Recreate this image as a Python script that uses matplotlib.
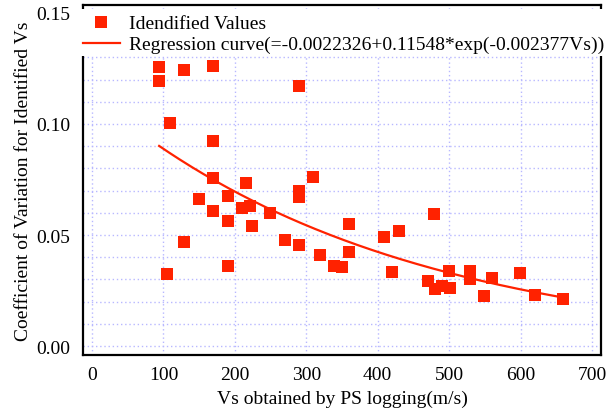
import numpy as np
import matplotlib
matplotlib.use("Agg")
import matplotlib.pyplot as plt
from matplotlib.patches import Rectangle
from matplotlib.ticker import MultipleLocator

plt.rcParams['font.family'] = ['Liberation Serif', 'DejaVu Serif']

# Identified values (Vs from PS logging, coefficient of variation)
vs = [94, 94, 129, 169, 290, 109, 169, 169, 216, 309, 150, 190, 169, 190,
      210, 221, 224, 249, 290, 290, 129, 270, 290, 190, 105, 319, 339, 350,
      360, 360, 409, 430, 479, 420, 470, 480, 490, 501, 500, 529, 529, 560,
      549, 599, 620, 659]
cv = [0.1257, 0.1194, 0.1243, 0.1261, 0.1171, 0.1005, 0.0923, 0.0757, 0.0734,
      0.0761, 0.0662, 0.0676, 0.0608, 0.0563, 0.0622, 0.0631, 0.0541, 0.0599,
      0.0700, 0.0670, 0.0468, 0.0477, 0.0455, 0.0360, 0.0324, 0.0410, 0.0360,
      0.0356, 0.0550, 0.0423, 0.0491, 0.0518, 0.0595, 0.0333, 0.0293, 0.0257,
      0.0270, 0.0261, 0.0338, 0.0338, 0.0302, 0.0306, 0.0225, 0.0329, 0.0230,
      0.0212]

# Regression parameters (from legend)
a0, a1, k = -0.0022326, 0.11548, -0.002377

xticks = [0, 100, 200, 300, 400, 500, 600, 700]
yticks = [0.00, 0.05, 0.10, 0.15]

red = '#ff2200'

fig = plt.figure(figsize=(6.12, 4.10), dpi=100)
ax = fig.add_axes([83/612, 54/410, 518/612, 350/410])

ax.plot(vs, cv, linestyle='none', marker='s', markersize=9, color=red,
        markeredgewidth=0, label='Idendified Values', zorder=3)
xf = np.linspace(min(vs), max(vs), 200)
ax.plot(xf, a0 + a1*np.exp(k*xf), color=red, lw=1.6,
        label='Regression curve(=-0.0022326+0.11548*exp(-0.002377Vs))', zorder=3)

ax.set_xlim(-12.6, 712.6)
ax.set_ylim(-0.00405, 0.1536)
ax.set_xticks(xticks)
ax.set_xticklabels([str(t) for t in xticks])
ax.set_yticks(yticks)
ax.set_yticklabels(['%.2f' % t for t in yticks])
ax.yaxis.set_minor_locator(MultipleLocator(0.01))
ax.tick_params(axis='both', which='both', length=0, labelsize=14)
ax.tick_params(axis='x', pad=8)
ax.tick_params(axis='y', pad=9)
ax.grid(True, which='both', color='#b8b8ff', linestyle=(0, (1, 2)), lw=1.0)
ax.set_axisbelow(True)
for s in ax.spines.values():
    s.set_linewidth(1.6)
    s.set_color('black')

ax.set_xlabel('Vs obtained by PS logging(m/s)', fontsize=14, labelpad=5)
ax.set_ylabel('Coefficient of Variation for Identified Vs', fontsize=14, labelpad=3)

# white band behind legend
ax.add_patch(Rectangle((-0.008, 0.855), 1.016, 0.133, transform=ax.transAxes,
                       facecolor='white', edgecolor='none', clip_on=False, zorder=4))
leg = ax.legend(loc='upper left', bbox_to_anchor=(0.0, 0.972), frameon=False,
                fontsize=14, numpoints=1, handlelength=1.9, handletextpad=0.45,
                borderpad=0, borderaxespad=0, labelspacing=0.17)
leg.set_zorder(5)

fig.savefig('out.png', dpi=100)
